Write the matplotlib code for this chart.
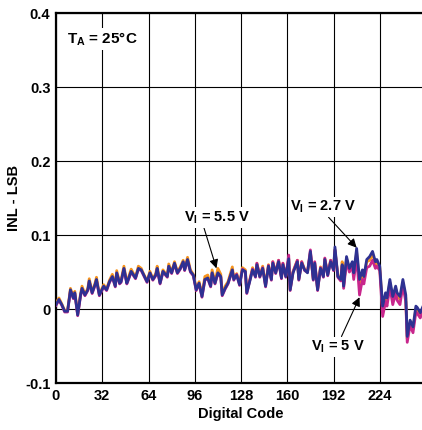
import matplotlib
matplotlib.use("Agg")
import matplotlib.pyplot as plt

plt.rcParams["font.family"] = ["Liberation Sans", "DejaVu Sans"]
plt.rcParams["font.weight"] = "bold"
plt.rcParams["mathtext.fontset"] = "custom"
plt.rcParams["mathtext.rm"] = "Liberation Sans:bold"
plt.rcParams["mathtext.bf"] = "Liberation Sans:bold"
plt.rcParams["mathtext.it"] = "Liberation Sans:bold"

# -----------------------------
# data
# -----------------------------
codes = [0, 2, 4, 6, 8, 10, 12, 13, 15, 17,
         18, 20, 22, 23, 25, 27, 28, 30, 33, 35,
         37, 39, 41, 42, 44, 45, 47, 49, 50, 52,
         55, 57, 59, 60, 63, 65, 67, 69, 70, 72,
         74, 77, 78, 80, 82, 84, 86, 88, 89, 91,
         93, 95, 97, 99, 101, 103, 105, 107, 108, 110,
         112, 114, 115, 117, 119, 122, 123, 125, 127, 129,
         131, 132, 134, 136, 138, 139, 141, 143, 145, 147,
         149, 150, 152, 154, 156, 157, 159, 161, 162, 164,
         167, 168, 170, 172, 174, 176, 178, 179, 181, 183,
         185, 186, 188, 190, 192, 193, 195, 197, 198, 199,
         201, 203, 205, 206, 208, 210, 212, 213, 215, 217,
         219, 221, 222, 224, 226, 228, 229, 231, 233, 235,
         236, 238, 240, 242, 243, 245, 247, 249, 250, 252,
         254]

inl_5v5 = [0.008, 0.015, 0.007, -0.002, -0.002, 0.028, 0.016, 0.024, -0.007, 0.021,
           0.031, 0.020, 0.028, 0.041, 0.023, 0.035, 0.043, 0.020, 0.033, 0.027,
           0.039, 0.047, 0.032, 0.052, 0.036, 0.039, 0.058, 0.036, 0.042, 0.054,
           0.043, 0.058, 0.055, 0.050, 0.038, 0.051, 0.041, 0.048, 0.058, 0.036,
           0.053, 0.045, 0.061, 0.050, 0.064, 0.050, 0.057, 0.066, 0.054, 0.070,
           0.053, 0.047, 0.028, 0.037, 0.020, 0.044, 0.046, 0.033, 0.053, 0.037,
           0.055, 0.047, 0.021, 0.031, 0.037, 0.057, 0.042, 0.048, 0.035, 0.056,
           0.053, 0.024, 0.039, 0.056, 0.045, 0.062, 0.045, 0.058, 0.033, 0.060,
           0.041, 0.064, 0.050, 0.066, 0.043, 0.062, 0.045, 0.068, 0.027, 0.051,
           0.066, 0.041, 0.064, 0.054, 0.050, 0.076, 0.041, 0.063, 0.027, 0.057,
           0.045, 0.068, 0.047, 0.066, 0.054, 0.080, 0.045, 0.041, 0.064, 0.032,
           0.068, 0.054, 0.062, 0.046, 0.076, 0.035, 0.050, 0.040, 0.064, 0.066,
           0.074, 0.061, 0.064, 0.056, 0.000, 0.018, 0.012, 0.036, 0.013, 0.028,
           0.019, 0.013, 0.036, 0.015, -0.040, -0.018, -0.027, 0.001, -0.002, -0.008,
           0.002]

inl_5v = [0.005, 0.012, 0.005, -0.004, -0.004, 0.025, 0.014, 0.021, -0.009, 0.018,
          0.027, 0.018, 0.025, 0.037, 0.021, 0.032, 0.039, 0.018, 0.030, 0.025,
          0.036, 0.043, 0.030, 0.048, 0.034, 0.036, 0.054, 0.034, 0.039, 0.050,
          0.041, 0.054, 0.052, 0.048, 0.036, 0.048, 0.039, 0.045, 0.054, 0.034,
          0.050, 0.043, 0.057, 0.048, 0.061, 0.048, 0.054, 0.063, 0.052, 0.066,
          0.050, 0.045, 0.025, 0.034, 0.016, 0.039, 0.041, 0.030, 0.048, 0.034,
          0.048, 0.043, 0.018, 0.027, 0.034, 0.052, 0.039, 0.047, 0.032, 0.054,
          0.050, 0.021, 0.038, 0.054, 0.043, 0.062, 0.043, 0.056, 0.030, 0.059,
          0.039, 0.064, 0.048, 0.066, 0.041, 0.062, 0.043, 0.073, 0.025, 0.050,
          0.066, 0.039, 0.064, 0.052, 0.050, 0.080, 0.039, 0.064, 0.025, 0.056,
          0.043, 0.069, 0.045, 0.066, 0.052, 0.080, 0.043, 0.038, 0.058, 0.028,
          0.064, 0.050, 0.058, 0.040, 0.070, 0.019, 0.040, 0.034, 0.056, 0.058,
          0.066, 0.055, 0.058, 0.052, -0.010, 0.010, 0.004, 0.030, 0.006, 0.022,
          0.012, 0.006, 0.032, 0.010, -0.045, -0.022, -0.032, -0.004, -0.006, -0.012,
          -0.002]

inl_2v7 = [0.006, 0.013, 0.006, -0.003, -0.003, 0.026, 0.015, 0.022, -0.008, 0.019,
           0.028, 0.019, 0.026, 0.038, 0.022, 0.033, 0.040, 0.019, 0.031, 0.026,
           0.037, 0.044, 0.031, 0.049, 0.035, 0.037, 0.055, 0.035, 0.040, 0.051,
           0.042, 0.055, 0.053, 0.049, 0.037, 0.049, 0.040, 0.046, 0.055, 0.035,
           0.051, 0.044, 0.058, 0.049, 0.062, 0.049, 0.055, 0.064, 0.053, 0.067,
           0.051, 0.046, 0.026, 0.035, 0.017, 0.040, 0.042, 0.031, 0.049, 0.035,
           0.049, 0.044, 0.019, 0.028, 0.035, 0.053, 0.040, 0.046, 0.033, 0.053,
           0.051, 0.022, 0.037, 0.053, 0.044, 0.060, 0.044, 0.055, 0.031, 0.058,
           0.040, 0.062, 0.049, 0.064, 0.042, 0.060, 0.044, 0.068, 0.026, 0.049,
           0.064, 0.040, 0.062, 0.053, 0.049, 0.078, 0.040, 0.062, 0.026, 0.055,
           0.044, 0.067, 0.046, 0.064, 0.053, 0.084, 0.044, 0.040, 0.060, 0.031,
           0.071, 0.055, 0.064, 0.049, 0.082, 0.040, 0.053, 0.044, 0.067, 0.071,
           0.078, 0.064, 0.067, 0.058, 0.004, 0.022, 0.015, 0.040, 0.017, 0.031,
           0.022, 0.017, 0.040, 0.019, -0.037, -0.015, -0.024, 0.004, 0.002, -0.005,
           0.004]

x_ticks = [0, 32, 64, 96, 128, 160, 192, 224, 256]
x_tick_labels = ["0", "32", "64", "96", "128", "160", "192", "224", ""]
y_ticks = [-0.1, 0, 0.1, 0.2, 0.3, 0.4]
y_tick_labels = ["-0.1", "0", "0.1", "0.2", "0.3", "0.4"]

col_orange  = "#f7941d"
col_magenta = "#c8268c"
col_blue    = "#2e3192"

fs = 10.5

fig = plt.figure(figsize=(4.22, 4.30), dpi=100)
ax = fig.add_axes([0.1327, 0.1093, 0.8768, 0.8598])

ax.plot(codes, inl_5v5, color=col_orange, lw=2.0, zorder=3)
ax.plot(codes, inl_5v, color=col_magenta, lw=2.0, zorder=4)
ax.plot(codes, inl_2v7, color=col_blue, lw=2.0, zorder=5)

ax.set_xlim(0, 256)
ax.set_ylim(-0.1, 0.4)
ax.set_xticks(x_ticks)
ax.set_xticklabels(x_tick_labels)
ax.set_yticks(y_ticks)
ax.set_yticklabels(y_tick_labels)
ax.tick_params(length=0, labelsize=fs, pad=4)
ax.grid(True, color="black", lw=0.8, zorder=1)
ax.set_axisbelow(True)

for side in ["top", "bottom", "left"]:
    ax.spines[side].set_linewidth(1.6)
ax.spines["right"].set_visible(False)

ax.set_xlabel("Digital Code", fontsize=fs, fontweight="bold", labelpad=3)
ax.set_ylabel("INL - LSB", fontsize=fs, fontweight="bold", labelpad=3)

box = dict(facecolor="white", edgecolor="none", pad=1.5)
arrow = dict(arrowstyle="-|>", color="black", lw=0.8, mutation_scale=13)

ax.text(7.5, 0.365, "T$_\\mathrm{A}$ = 25°C", fontsize=11, fontweight="bold",
        ha="left", va="center", bbox=box, zorder=6)

ax.annotate("V$_\\mathrm{I}$ = 5.5 V", xy=(111, 0.055), xytext=(111, 0.124),
            fontsize=fs, fontweight="bold", ha="center", va="center",
            bbox=box, arrowprops=dict(arrow, shrinkA=0, shrinkB=0,
                                      relpos=(0.3, 0.0)), zorder=6)

ax.annotate("V$_\\mathrm{I}$ = 2.7 V", xy=(208, 0.083), xytext=(185, 0.138),
            fontsize=fs, fontweight="bold", ha="center", va="center",
            bbox=box, arrowprops=dict(arrow, shrinkA=0, shrinkB=0,
                                      relpos=(0.55, 0.0)), zorder=6)

ax.annotate("V$_\\mathrm{I}$ = 5 V", xy=(210, 0.016), xytext=(195, -0.051),
            fontsize=fs, fontweight="bold", ha="center", va="center",
            bbox=box, arrowprops=dict(arrow, shrinkA=0, shrinkB=0,
                                      relpos=(0.55, 1.0)), zorder=6)

fig.savefig("out.png", dpi=100)
